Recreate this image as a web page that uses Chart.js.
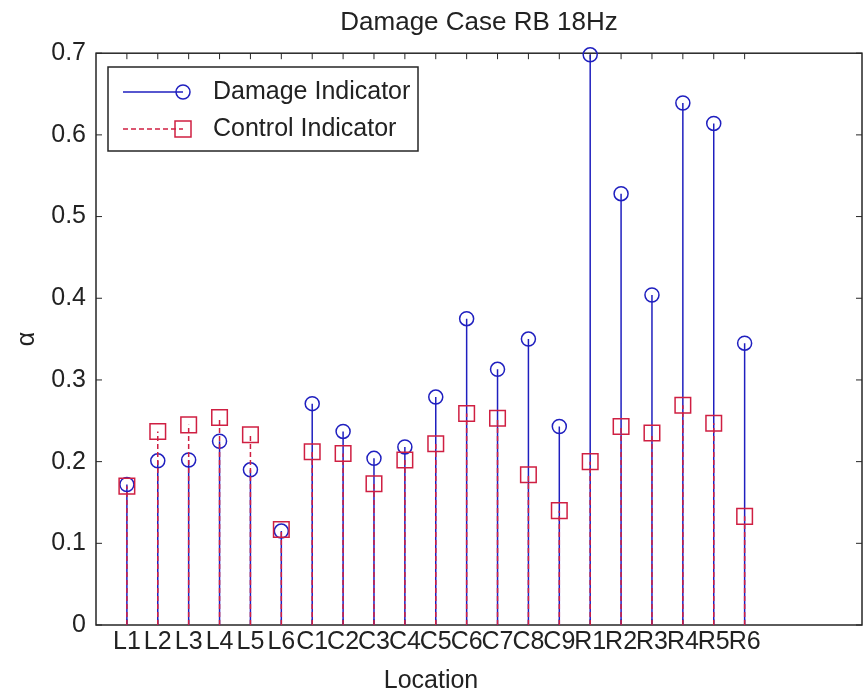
<!DOCTYPE html>
<html>
<head>
<meta charset="utf-8">
<title>Damage Case RB 18Hz</title>
<script src="https://cdn.jsdelivr.net/npm/chart.js@4.4.1/dist/chart.umd.min.js"></script>
<style>
    html, body { margin: 0; padding: 0; background: #fff; }
    #wrap { width: 865px; height: 696px; }
</style>
</head>
<body>
<div id="wrap"><canvas id="stem-chart" width="865" height="696"></canvas></div>
<script>
const categories = ['L1', 'L2', 'L3', 'L4', 'L5', 'L6',
    'C1', 'C2', 'C3', 'C4', 'C5', 'C6', 'C7', 'C8', 'C9',
    'R1', 'R2', 'R3', 'R4', 'R5', 'R6'];
const damageValues = [0.172, 0.201, 0.202, 0.225, 0.190, 0.115,
    0.271, 0.237, 0.204, 0.218, 0.279, 0.375, 0.313, 0.350, 0.243,
    0.698, 0.528, 0.404, 0.639, 0.614, 0.345];
const controlValues = [0.170, 0.237, 0.245, 0.254, 0.233, 0.117,
    0.212, 0.210, 0.173, 0.202, 0.222, 0.259, 0.253, 0.184, 0.140,
    0.200, 0.243, 0.235, 0.269, 0.247, 0.133];
const yTickValues = [0, 0.1, 0.2, 0.3, 0.4, 0.5, 0.6, 0.7];

const blue = '#1f1fbf';
const red = '#cf1f42';
const axisColor = '#262626';
const textColor = '#222';

Chart.defaults.font.family = '"Liberation Sans", Arial, sans-serif';
Chart.defaults.color = textColor;

// stem = segment from 0 up to the value, separated by a gap
function stemPoints(values) {
    const pts = [];
    values.forEach(function(v, i) {
        pts.push({x: i + 1, y: 0}, {x: i + 1, y: v}, {x: i + 1, y: null});
    });
    return pts;
}

function markerPoints(values) {
    return values.map(function(v, i) { return {x: i + 1, y: v}; });
}

const framePlugin = {
    id: 'frame',
    beforeDatasetsDraw(chart) {
        const ctx = chart.ctx;
        const a = chart.chartArea;
        const xs = chart.scales.x;
        const ys = chart.scales.y;
        const tl = 6;
        ctx.save();
        ctx.strokeStyle = axisColor;
        ctx.lineWidth = 1.5;
        ctx.strokeRect(a.left, a.top, a.right - a.left, a.bottom - a.top);
        ctx.lineWidth = 1;
        ctx.beginPath();
        xs.ticks.forEach(function(t) {
            const px = xs.getPixelForValue(t.value);
            ctx.moveTo(px, a.bottom); ctx.lineTo(px, a.bottom - tl);
            ctx.moveTo(px, a.top); ctx.lineTo(px, a.top + tl);
        });
        ys.ticks.forEach(function(t) {
            const py = ys.getPixelForValue(t.value);
            ctx.moveTo(a.left, py); ctx.lineTo(a.left + tl, py);
            ctx.moveTo(a.right, py); ctx.lineTo(a.right - tl, py);
        });
        ctx.stroke();
        ctx.restore();
    },
    afterDraw(chart) {
        const ctx = chart.ctx;
        ctx.save();
        ctx.fillStyle = textColor;
        ctx.font = '25px "Liberation Sans", Arial, sans-serif';
        ctx.textAlign = 'center';
        ctx.textBaseline = 'middle';
        ctx.fillText('Location', 431, 681);
        ctx.restore();
    }
};

const legendPlugin = {
    id: 'boxLegend',
    afterDraw(chart) {
        const ctx = chart.ctx;
        const box = {x: 108, y: 67, w: 310, h: 84};
        const rows = [
            {label: chart.data.datasets[3].label, color: blue, dash: [], style: 'circle', y: 92},
            {label: chart.data.datasets[1].label, color: red, dash: [5, 3], style: 'rect', y: 129}
        ];
        ctx.save();
        ctx.fillStyle = '#fff';
        ctx.fillRect(box.x, box.y, box.w, box.h);
        ctx.strokeStyle = axisColor;
        ctx.lineWidth = 1.5;
        ctx.strokeRect(box.x, box.y, box.w, box.h);
        rows.forEach(function(r) {
            ctx.strokeStyle = r.color;
            ctx.lineWidth = 1.5;
            ctx.setLineDash(r.dash);
            ctx.beginPath();
            ctx.moveTo(123, r.y);
            ctx.lineTo(183, r.y);
            ctx.stroke();
            ctx.setLineDash([]);
            ctx.beginPath();
            if (r.style === 'circle') {
                ctx.arc(183, r.y, 7, 0, Math.PI * 2);
            } else {
                ctx.rect(175, r.y - 8, 16, 16);
            }
            ctx.stroke();
            ctx.fillStyle = textColor;
            ctx.font = '25px "Liberation Sans", Arial, sans-serif';
            ctx.textAlign = 'left';
            ctx.textBaseline = 'middle';
            ctx.fillText(r.label, 213, r.y);
        });
        ctx.restore();
    }
};

const ctx = document.getElementById('stem-chart').getContext('2d');
const chart = new Chart(ctx, {
    type: 'line',
    data: {
        datasets: [{
            label: 'Control Indicator',
            type: 'scatter',
            data: markerPoints(controlValues),
            showLine: false,
            pointStyle: 'rect',
            pointRadius: 11,
            borderColor: red,
            backgroundColor: 'transparent',
            borderWidth: 1.5,
            clip: false
        }, {
            label: 'Control Indicator',
            data: stemPoints(controlValues),
            borderColor: red,
            borderWidth: 1.5,
            borderDash: [5, 3],
            pointRadius: 0,
            spanGaps: false,
            fill: false
        }, {
            label: 'Damage Indicator',
            type: 'scatter',
            data: markerPoints(damageValues),
            showLine: false,
            pointStyle: 'circle',
            pointRadius: 7,
            borderColor: blue,
            backgroundColor: 'transparent',
            borderWidth: 1.5,
            clip: false
        }, {
            label: 'Damage Indicator',
            data: stemPoints(damageValues),
            borderColor: blue,
            borderWidth: 1.5,
            pointRadius: 0,
            spanGaps: false,
            fill: false
        }]
    },
    options: {
        responsive: false,
        animation: false,
        devicePixelRatio: 1,
        layout: { autoPadding: false, padding: { left: 0, right: 3, top: 0, bottom: 0 } },
        plugins: {
            legend: { display: false },
            tooltip: { enabled: false },
            title: {
                display: true,
                text: 'Damage Case RB 18Hz',
                fullSize: false,
                color: textColor,
                font: { size: 26, weight: 'normal' },
                padding: { top: 7, bottom: 15 }
            }
        },
        scales: {
            x: {
                type: 'linear',
                min: 0,
                max: 24.8,
                border: { display: false },
                grid: { display: false, drawTicks: false },
                afterBuildTicks: function(scale) {
                    scale.ticks = categories.map(function(c, i) { return {value: i + 1}; });
                },
                afterFit: function(scale) {
                    scale.height = 71;
                    scale.paddingLeft = 0;
                    scale.paddingRight = 0;
                },
                ticks: {
                    autoSkip: false,
                    maxRotation: 0,
                    minRotation: 0,
                    padding: 2,
                    color: textColor,
                    font: { size: 25 },
                    callback: function(value) { return categories[Math.round(value) - 1]; }
                }
            },
            y: {
                min: 0,
                max: 0.7,
                border: { display: false },
                grid: { display: false, drawTicks: false },
                afterBuildTicks: function(scale) {
                    scale.ticks = yTickValues.map(function(v) { return {value: v}; });
                },
                afterFit: function(scale) { scale.width = 96; },
                title: {
                    display: true,
                    text: 'α',
                    color: textColor,
                    font: { size: 25 },
                    padding: { top: 12, bottom: 0 }
                },
                ticks: {
                    padding: 10,
                    color: textColor,
                    font: { size: 25 },
                    callback: function(value) { return value === 0 ? '0' : value.toFixed(1); }
                }
            }
        }
    },
    plugins: [framePlugin, legendPlugin]
});
</script>
</body>
</html>
